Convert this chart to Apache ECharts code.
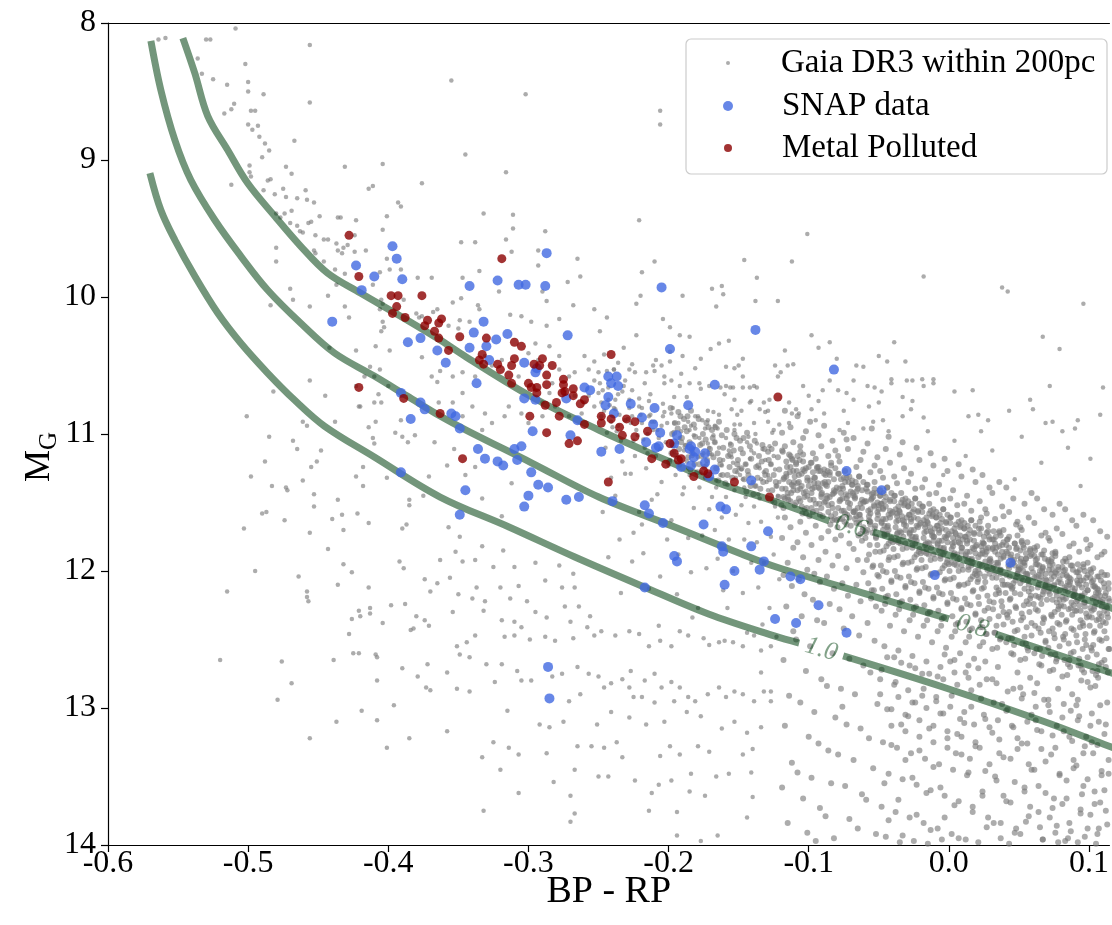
<!DOCTYPE html>
<html>
<head>
<meta charset="utf-8">
<script src="https://cdn.jsdelivr.net/npm/echarts@6/dist/echarts.min.js"></script>
<style>
  html, body { margin: 0; padding: 0; background: #fff; }
  #chart { width: 1112px; height: 925px; }
</style>
</head>
<body>
<div id="chart"></div>
<script>
// axes (the original figure is cropped on the right, just past 0.11)
const xMin = -0.6, xMax = 0.1146, xStep = 0.1;
const yMin = 8, yMax = 14, yStep = 1;
const seriesNames = ["Gaia DR3 within 200pc", "SNAP data", "Metal Polluted"];

// cooling tracks [BP-RP, M_G]; null marks the gap for the inline mass label
const trackMass = ["0.6", "0.8", "1.0"];
const track06 = [[-0.5466,8.11],[-0.5381,8.365],[-0.5288,8.679],[-0.5146,8.927],[-0.5004,9.168],[-0.4811,9.409],[-0.4626,9.628],[-0.4434,9.825],[-0.4199,9.971],[-0.3915,10.139],[-0.3630,10.314],[-0.3445,10.438],[-0.2975,10.730],[-0.2498,10.971],[-0.2021,11.190],[-0.1644,11.358],[-0.1231,11.496],[-0.0854,11.635],null,[-0.0541,11.715],[0.0427,12.022],[0.1139,12.263],[0.1274,12.31]];
const track08 = [[-0.5694,8.131],[-0.5623,8.489],[-0.5523,8.854],[-0.5409,9.146],[-0.5238,9.438],[-0.5053,9.701],[-0.4861,9.949],[-0.4626,10.190],[-0.4384,10.409],[-0.4100,10.577],[-0.3865,10.723],[-0.3630,10.869],[-0.3445,10.971],[-0.2975,11.212],[-0.2498,11.460],[-0.1957,11.679],[-0.1480,11.876],[-0.1231,11.971],[-0.0520,12.190],[0.0000,12.350],null,[0.0335,12.460],[0.1139,12.737],[0.1274,12.78]];
const track10 = [[-0.5701,9.095],[-0.5623,9.365],[-0.5523,9.584],[-0.5381,9.847],[-0.5217,10.117],[-0.5053,10.336],[-0.4861,10.555],[-0.4669,10.752],[-0.4456,10.942],[-0.4100,11.168],[-0.3630,11.460],[-0.3139,11.679],[-0.2669,11.898],[-0.2192,12.109],[-0.1715,12.314],[-0.1246,12.474],[-0.1068,12.526],null,[-0.0754,12.620],[-0.0043,12.847],[0.0669,13.095],[0.1139,13.277],[0.1274,13.33]];

// SNAP sample [BP-RP, M_G]
const snapData = [[-0.397,9.63],[-0.423,9.77],[-0.394,9.72],[-0.410,9.85],[-0.390,9.87],[-0.419,9.95],[-0.287,9.68],[-0.342,9.92],[-0.322,9.88],[-0.307,9.91],[-0.302,9.91],[-0.288,9.92],[-0.205,9.93],[-0.440,10.18],[-0.332,10.18],[-0.386,10.33],[-0.377,10.30],[-0.365,10.39],[-0.359,10.48],[-0.339,10.26],[-0.342,10.37],[-0.330,10.36],[-0.323,10.31],[-0.315,10.27],[-0.272,10.28],[-0.199,10.38],[-0.138,10.24],[-0.082,10.53],[-0.328,10.46],[-0.303,10.48],[-0.295,10.55],[-0.337,10.63],[-0.303,10.74],[-0.295,10.75],[-0.273,10.74],[-0.260,10.66],[-0.256,10.68],[-0.243,10.58],[-0.237,10.58],[-0.241,10.63],[-0.236,10.65],[-0.243,10.73],[-0.245,10.79],[-0.227,10.78],[-0.210,10.81],[-0.186,10.79],[-0.167,10.64],[-0.265,10.90],[-0.297,10.98],[-0.270,11.01],[-0.239,10.85],[-0.219,10.88],[-0.211,10.93],[-0.206,10.99],[-0.216,11.06],[-0.209,11.10],[-0.194,11.01],[-0.184,11.09],[-0.181,11.13],[-0.174,11.14],[-0.191,11.24],[-0.184,11.23],[-0.174,11.21],[-0.167,11.26],[-0.171,11.31],[-0.248,11.13],[-0.235,11.11],[-0.391,10.70],[-0.377,10.77],[-0.374,10.82],[-0.384,10.89],[-0.355,10.85],[-0.352,10.87],[-0.349,10.96],[-0.336,11.11],[-0.331,11.18],[-0.322,11.20],[-0.318,11.23],[-0.310,11.11],[-0.305,11.09],[-0.308,11.19],[-0.298,11.28],[-0.293,11.37],[-0.286,11.39],[-0.300,11.45],[-0.303,11.53],[-0.273,11.48],[-0.264,11.46],[-0.240,11.49],[-0.217,11.52],[-0.214,11.58],[-0.204,11.65],[-0.175,11.66],[-0.163,11.53],[-0.159,11.55],[-0.141,11.34],[-0.162,11.82],[-0.161,11.86],[-0.141,11.82],[-0.132,11.93],[-0.135,11.99],[-0.153,12.00],[-0.160,12.10],[-0.194,11.93],[-0.196,11.89],[-0.217,12.12],[-0.129,11.71],[-0.124,12.35],[-0.345,11.41],[-0.349,11.59],[-0.286,12.70],[-0.285,12.93],[-0.391,11.28],[-0.073,11.27],[-0.048,11.41],[0.044,11.94],[-0.010,12.03],[-0.113,12.04],[-0.106,12.06],[-0.093,12.25],[-0.109,12.38],[-0.073,12.45],[-0.207,11.09],[-0.196,11.07],[-0.185,11.11],[-0.182,11.17],[-0.294,10.52]];

// metal polluted subset
const pollutedData = [[-0.428,9.55],[-0.421,9.85],[-0.319,9.72],[-0.398,9.99],[-0.393,9.99],[-0.376,9.99],[-0.394,10.07],[-0.397,10.12],[-0.388,10.15],[-0.372,10.17],[-0.362,10.16],[-0.364,10.19],[-0.374,10.21],[-0.367,10.25],[-0.364,10.30],[-0.349,10.29],[-0.330,10.30],[-0.357,10.39],[-0.310,10.33],[-0.305,10.36],[-0.333,10.42],[-0.335,10.46],[-0.332,10.49],[-0.322,10.49],[-0.320,10.53],[-0.312,10.50],[-0.310,10.45],[-0.296,10.49],[-0.290,10.45],[-0.292,10.50],[-0.283,10.50],[-0.314,10.57],[-0.312,10.63],[-0.287,10.57],[-0.300,10.63],[-0.298,10.66],[-0.294,10.66],[-0.294,10.70],[-0.287,10.64],[-0.275,10.60],[-0.275,10.64],[-0.276,10.70],[-0.274,10.69],[-0.268,10.67],[-0.268,10.72],[-0.260,10.75],[-0.263,10.78],[-0.280,10.77],[-0.288,10.79],[-0.278,10.87],[-0.299,10.87],[-0.287,10.99],[-0.241,10.42],[-0.248,10.87],[-0.248,10.92],[-0.260,10.93],[-0.241,10.89],[-0.235,10.95],[-0.230,10.89],[-0.224,10.91],[-0.233,11.01],[-0.224,11.02],[-0.215,10.98],[-0.271,11.07],[-0.265,11.05],[-0.199,11.07],[-0.196,11.14],[-0.212,11.18],[-0.202,11.22],[-0.193,11.19],[-0.191,11.18],[-0.182,11.31],[-0.175,11.27],[-0.172,11.29],[-0.243,11.35],[-0.421,10.66],[-0.389,10.74],[-0.363,10.85],[-0.347,11.18],[-0.153,11.35],[-0.128,11.46],[-0.122,10.73]];

// Gaia 200pc background, flat x,y lists by area of the diagram
const gaiaUpperLeft = [-0.564,8.12,-0.559,8.11,-0.509,8.04,-0.530,8.12,-0.527,8.12,-0.456,8.16,-0.536,8.26,-0.502,8.30,-0.533,8.37,-0.525,8.41,-0.515,8.45,-0.500,8.43,-0.500,8.50,-0.489,8.52,-0.456,8.58,-0.510,8.59,-0.512,8.63,-0.517,8.66,-0.498,8.64,-0.495,8.64,-0.500,8.74,-0.493,8.75,-0.497,8.78,-0.492,8.83,-0.488,8.88,-0.485,8.93,-0.467,8.86,-0.490,8.98,-0.499,9.04,-0.499,9.09,-0.498,9.12,-0.473,9.05,-0.469,9.10,-0.484,9.14,-0.486,9.15,-0.431,9.05,-0.404,9.03,-0.512,9.18,-0.489,9.22,-0.481,9.25,-0.475,9.21,-0.473,9.27,-0.465,9.28,-0.459,9.22,-0.458,9.29,-0.453,9.31,-0.469,9.37,-0.480,9.39,-0.477,9.42,-0.474,9.39,-0.470,9.46,-0.465,9.48,-0.463,9.52,-0.461,9.53,-0.457,9.46,-0.455,9.45,-0.449,9.41,-0.436,9.42,-0.434,9.42,-0.423,9.44,-0.414,9.21,-0.411,9.19,-0.393,9.31,-0.391,9.34,-0.376,9.17,-0.401,9.41,-0.404,9.51,-0.452,9.55,-0.446,9.58,-0.443,9.58,-0.437,9.61,-0.429,9.62,-0.424,9.55,-0.416,9.66,-0.432,9.64,-0.436,9.66,-0.433,9.68,-0.424,9.67,-0.453,9.66,-0.452,9.68,-0.480,9.64,-0.480,9.74,-0.446,9.74,-0.438,9.80,-0.437,9.91,-0.431,9.83,-0.401,9.72,-0.399,9.80,-0.391,9.80,-0.379,9.86,-0.369,9.86,-0.406,9.82,-0.411,9.91,-0.405,10.02,-0.404,10.05,-0.406,10.09,-0.389,10.02,-0.376,10.14,-0.378,10.15,-0.380,10.12,-0.368,10.11,-0.365,10.09,-0.443,9.99,-0.431,10.07,-0.428,10.15,-0.456,10.07,-0.470,9.94,-0.468,10.02,-0.484,10.06,-0.404,10.18,-0.405,10.25,-0.403,10.22,-0.409,10.36,-0.399,10.39,-0.423,10.39,-0.442,10.37,-0.456,10.61,-0.482,10.69,-0.445,10.72,-0.423,10.65,-0.413,10.51,-0.406,10.53,-0.410,10.58,-0.417,10.58,-0.400,10.65,-0.407,10.71,-0.405,10.77,-0.410,10.77,-0.420,10.80,-0.421,10.80,-0.409,10.91,-0.414,10.95,-0.438,10.91,-0.461,10.91,-0.458,10.94,-0.501,10.87,-0.395,10.99,-0.391,10.90,-0.376,10.44,-0.369,10.58,-0.365,10.62,-0.363,10.54,-0.364,10.77];
const gaiaLowerLeft = [-0.485,11.02,-0.468,11.05,-0.465,11.11,-0.448,11.12,-0.488,11.20,-0.451,11.20,-0.455,11.24,-0.498,11.31,-0.483,11.38,-0.473,11.39,-0.472,11.41,-0.461,11.34,-0.453,11.44,-0.453,11.53,-0.436,11.48,-0.423,11.31,-0.418,11.24,-0.418,11.38,-0.411,11.03,-0.410,11.07,-0.401,11.32,-0.390,11.02,-0.386,11.06,-0.381,11.01,-0.367,11.06,-0.371,11.31,-0.375,11.45,-0.385,11.48,-0.385,11.52,-0.490,11.58,-0.487,11.57,-0.474,11.63,-0.503,11.69,-0.456,11.72,-0.440,11.62,-0.433,11.59,-0.432,11.70,-0.422,11.58,-0.414,11.65,-0.387,11.66,-0.390,11.69,-0.443,11.84,-0.432,11.95,-0.426,12.01,-0.392,11.93,-0.389,11.98,-0.374,12.06,-0.370,12.15,-0.365,12.09,-0.363,11.92,-0.495,12.00,-0.464,12.04,-0.515,12.15,-0.458,12.15,-0.458,12.19,-0.457,12.22,-0.436,12.10,-0.414,12.12,-0.421,12.29,-0.420,12.33,-0.426,12.35,-0.413,12.27,-0.413,12.31,-0.398,12.25,-0.388,12.24,-0.404,12.38,-0.428,12.46,-0.380,12.33,-0.374,12.36,-0.371,12.40,-0.384,12.43,-0.382,12.42,-0.425,12.60,-0.421,12.60,-0.409,12.61,-0.408,12.63,-0.520,12.65,-0.476,12.66,-0.439,12.65,-0.390,12.71,-0.372,12.68,-0.379,12.77,-0.469,12.82,-0.408,12.80,-0.373,12.85,-0.370,12.87,-0.479,12.94,-0.396,12.98,-0.419,13.02,-0.437,13.10,-0.408,13.09,-0.456,13.22,-0.385,13.22,-0.401,13.29];
const gaiaUpperMid = [-0.355,8.42,-0.302,8.52,-0.345,8.96,-0.316,9.09,-0.332,9.39,-0.311,9.40,-0.311,9.50,-0.316,9.58,-0.348,9.60,-0.338,9.60,-0.312,9.67,-0.288,9.52,-0.293,9.66,-0.293,9.77,-0.335,9.81,-0.347,9.86,-0.265,9.72,-0.263,9.85,-0.272,9.89,-0.221,9.44,-0.210,9.74,-0.219,9.82,-0.206,8.64,-0.206,8.74,-0.146,9.73,-0.137,9.86,-0.169,9.94,-0.162,9.92,-0.161,9.98,-0.166,10.07,-0.138,10.03,-0.190,9.99,-0.220,9.99,-0.223,10.05,-0.204,10.16,-0.253,10.09,-0.244,10.15,-0.268,10.06,-0.278,10.16,-0.287,10.03,-0.321,9.96,-0.290,9.96,-0.305,10.14,-0.313,10.13,-0.298,10.18,-0.287,10.21,-0.348,10.01,-0.354,10.04,-0.336,10.06,-0.342,10.18,-0.349,10.17,-0.335,10.09,-0.357,10.21,-0.350,10.23,-0.199,10.22,-0.192,10.28,-0.185,10.29,-0.164,10.34,-0.157,10.32,-0.124,10.50,-0.147,10.45,-0.150,10.50,-0.153,10.52,-0.177,10.45,-0.190,10.43,-0.199,10.47,-0.205,10.50,-0.210,10.54,-0.216,10.55,-0.203,10.58,-0.198,10.61,-0.192,10.65,-0.185,10.63,-0.178,10.63,-0.171,10.65,-0.159,10.65,-0.154,10.66,-0.147,10.66,-0.142,10.66,-0.139,10.65,-0.160,10.71,-0.153,10.75,-0.141,10.76,-0.132,10.77,-0.128,10.75,-0.135,10.82,-0.148,10.83,-0.155,10.82,-0.164,10.86,-0.172,10.90,-0.179,10.87,-0.186,10.91,-0.196,10.92,-0.205,10.94,-0.210,10.91,-0.167,10.94,-0.153,10.93,-0.139,10.92,-0.129,10.91,-0.125,10.97,-0.181,10.96,-0.226,10.49,-0.224,10.55,-0.231,10.61,-0.236,10.48,-0.239,10.53,-0.250,10.55,-0.253,10.61,-0.257,10.53,-0.260,10.43,-0.253,10.47,-0.267,10.55,-0.271,10.58,-0.278,10.53,-0.283,10.63,-0.274,10.68,-0.267,10.72,-0.260,10.77,-0.253,10.80,-0.248,10.77,-0.238,10.82,-0.226,10.87,-0.219,10.92,-0.214,10.87,-0.221,10.80,-0.228,10.75,-0.233,10.69,-0.243,10.66,-0.250,10.70,-0.257,10.72,-0.262,10.85,-0.271,10.87,-0.281,10.80,-0.290,10.87,-0.300,10.92,-0.305,10.85,-0.314,10.80,-0.317,10.87,-0.326,10.92,-0.333,10.97,-0.331,10.85,-0.340,10.80,-0.347,10.87,-0.354,10.77,-0.347,10.70,-0.338,10.58,-0.347,10.55,-0.354,10.58,-0.326,10.50,-0.319,10.46,-0.331,10.43,-0.300,10.41,-0.295,10.34,-0.285,10.36,-0.278,10.43,-0.293,10.46,-0.307,10.58,-0.295,10.68,-0.285,10.70,-0.290,10.77];
const gaiaUpperRight = [-0.101,9.54,-0.112,9.74,-0.018,9.85,0.038,9.93,0.042,9.96,0.096,10.05,-0.122,10.03,0.067,10.29,0.079,10.38,-0.098,10.28,-0.085,10.33,-0.039,10.33,-0.093,10.37,-0.117,10.39,-0.050,10.43,-0.044,10.47,-0.031,10.47,-0.080,10.45,-0.066,10.50,-0.061,10.51,-0.111,10.49,-0.115,10.50,-0.120,10.55,-0.085,10.61,-0.068,10.61,-0.041,10.60,-0.041,10.63,-0.030,10.61,-0.026,10.61,-0.019,10.60,-0.011,10.60,-0.011,10.63,-0.018,10.65,0.004,10.69,0.017,10.68,0.072,10.65,0.110,10.66,-0.058,10.65,-0.053,10.66,-0.048,10.69,-0.104,10.65,-0.100,10.72,-0.090,10.68,-0.079,10.68,-0.073,10.70,-0.033,10.73,-0.026,10.76,-0.093,10.76,-0.114,10.77,-0.109,10.82,-0.107,10.85,-0.112,10.85,-0.098,10.82,-0.089,10.85,-0.075,10.83,-0.068,10.75,-0.057,10.80,-0.050,10.77,-0.054,10.91,-0.047,10.90,-0.061,10.96,-0.033,10.87,-0.027,10.82,-0.018,10.88,0.014,10.87,0.021,10.86,0.028,10.90,0.043,10.83,0.058,10.75,0.060,10.82,0.069,10.92,0.074,10.91,0.092,10.90,0.108,10.86,0.081,10.98,0.090,10.96,0.023,10.98,-0.072,10.92,-0.078,10.97,-0.114,10.92,-0.121,10.93,-0.095,10.90,-0.043,10.98,-0.015,10.98,0.004,11.05,0.031,11.12,0.052,11.02,0.085,11.10,0.101,11.18,0.066,11.21,0.012,11.16,-0.004,11.30,0.047,11.33,0.094,11.38];
const gaiaLowerMid = [-0.353,11.11,-0.358,11.23,-0.338,11.24,-0.345,11.30,-0.312,11.36,-0.333,11.47,-0.319,11.60,-0.357,11.68,-0.349,11.75,-0.333,11.82,-0.318,11.85,-0.352,11.86,-0.338,11.92,-0.347,11.93,-0.325,11.97,-0.310,11.97,-0.295,11.94,-0.356,12.05,-0.337,12.12,-0.320,12.12,-0.307,12.11,-0.288,12.07,-0.278,11.96,-0.268,12.02,-0.276,12.12,-0.267,12.12,-0.350,12.17,-0.340,12.20,-0.331,12.22,-0.313,12.20,-0.301,12.22,-0.295,12.30,-0.287,12.34,-0.274,12.26,-0.264,12.26,-0.256,12.33,-0.258,12.41,-0.270,12.37,-0.354,12.30,-0.332,12.29,-0.319,12.36,-0.310,12.37,-0.305,12.41,-0.338,12.47,-0.317,12.48,-0.310,12.47,-0.299,12.50,-0.288,12.48,-0.281,12.51,-0.268,12.49,-0.253,12.47,-0.248,12.44,-0.238,12.47,-0.228,12.44,-0.221,12.46,-0.214,12.55,-0.206,12.51,-0.198,12.55,-0.192,12.44,-0.186,12.47,-0.175,12.49,-0.171,12.54,-0.160,12.51,-0.154,12.52,-0.147,12.55,-0.139,12.47,-0.134,12.58,-0.127,12.55,-0.351,12.55,-0.344,12.52,-0.349,12.61,-0.342,12.63,-0.330,12.68,-0.319,12.68,-0.308,12.73,-0.305,12.80,-0.298,12.80,-0.283,12.77,-0.276,12.75,-0.265,12.70,-0.257,12.75,-0.250,12.77,-0.246,12.85,-0.241,12.82,-0.233,12.79,-0.227,12.73,-0.228,12.85,-0.225,12.92,-0.219,12.92,-0.217,12.80,-0.210,12.75,-0.205,12.85,-0.198,12.81,-0.192,12.85,-0.196,12.95,-0.210,12.96,-0.186,12.92,-0.181,12.95,-0.172,12.90,-0.164,12.85,-0.159,12.92,-0.153,12.88,-0.147,12.90,-0.139,12.95,-0.132,12.88,-0.127,12.95,-0.358,12.74,-0.351,12.86,-0.342,12.88,-0.324,12.81,-0.315,13.02,-0.271,12.95,-0.263,12.90,-0.292,13.12,-0.285,13.14,-0.275,13.10,-0.251,13.12,-0.241,13.03,-0.228,13.07,-0.216,13.12,-0.203,13.10,-0.187,13.03,-0.177,13.06,-0.162,13.15,-0.153,13.10,-0.144,13.18,-0.134,13.14,-0.358,13.17,-0.325,13.25,-0.314,13.29,-0.307,13.34,-0.333,13.36,-0.287,13.33,-0.265,13.28,-0.255,13.28,-0.246,13.29,-0.237,13.25,-0.233,13.36,-0.206,13.35,-0.199,13.28,-0.192,13.34,-0.179,13.28,-0.171,13.32,-0.147,13.34,-0.140,13.30,-0.320,13.45,-0.282,13.54,-0.267,13.45,-0.250,13.50,-0.243,13.50,-0.224,13.53,-0.207,13.56,-0.198,13.53,-0.184,13.48,-0.166,13.50,-0.157,13.48,-0.141,13.47,-0.307,13.62,-0.270,13.64,-0.212,13.62,-0.185,13.61,-0.174,13.64,-0.140,13.65,-0.332,13.75,-0.267,13.77,-0.270,13.83,-0.214,13.75,-0.194,13.76,-0.144,13.80,-0.194,13.93,-0.177,13.97,-0.165,13.93];
const gaiaBandLeft = [
-0.249,10.63,-0.243,10.75,-0.246,10.83,-0.241,10.91,-0.247,10.68,-0.244,10.99,-0.242,10.79,-0.248,10.87,-0.245,11.10,-0.241,11.32,-0.247,11.57,-0.243,11.90,-0.246,10.42,-0.249,10.25,-0.240,10.95,-0.244,10.54,
-0.238,10.75,-0.235,10.86,-0.232,10.65,-0.237,10.98,-0.231,10.90,-0.239,10.81,-0.234,11.05,-0.236,10.71,-0.233,11.20,-0.238,11.45,-0.231,11.29,-0.235,11.77,-0.239,10.53,-0.232,10.37,-0.236,10.94,-0.234,12.16,
-0.227,10.92,-0.221,10.74,-0.225,11.05,-0.228,10.81,-0.223,10.97,-0.226,10.68,-0.229,10.89,-0.222,11.01,-0.224,11.16,-0.227,11.29,-0.221,11.57,-0.225,11.72,-0.228,10.53,-0.223,10.28,-0.220,10.86,-0.226,11.93,
-0.219,10.81,-0.215,11.00,-0.212,10.91,-0.217,11.10,-0.214,10.76,-0.211,10.97,-0.218,11.04,-0.213,10.86,-0.216,11.25,-0.212,11.48,-0.219,11.66,-0.214,12.13,-0.217,10.63,-0.211,10.50,-0.215,11.14,-0.218,11.87,-0.213,10.71,
-0.208,10.97,-0.203,10.84,-0.206,11.11,-0.201,10.92,-0.209,11.16,-0.204,10.78,-0.207,11.03,-0.202,11.06,-0.205,11.35,-0.208,11.44,-0.201,11.77,-0.206,12.04,-0.203,10.63,-0.209,10.46,-0.204,10.87,-0.200,11.23,-0.207,12.40,
-0.198,10.85,-0.194,11.06,-0.191,10.98,-0.196,11.13,-0.193,10.92,-0.199,11.19,-0.192,11.03,-0.197,10.81,-0.195,11.30,-0.190,11.44,-0.198,11.63,-0.193,11.88,-0.196,10.73,-0.191,10.56,-0.197,11.09,-0.194,12.17,-0.192,11.23,-0.199,10.40,
-0.189,11.12,-0.184,10.94,-0.187,11.20,-0.182,11.01,-0.186,11.25,-0.181,10.87,-0.188,11.08,-0.183,11.16,-0.185,10.97,-0.189,11.39,-0.182,11.54,-0.186,11.76,-0.184,12.01,-0.187,10.73,-0.181,10.52,-0.185,11.30,-0.183,12.34,
-0.178,11.03,-0.173,11.22,-0.176,10.90,-0.171,11.10,-0.179,11.17,-0.174,10.96,-0.177,11.28,-0.172,11.07,-0.175,11.14,-0.178,11.39,-0.171,11.55,-0.176,11.74,-0.173,11.98,-0.179,12.27,-0.172,10.83,-0.177,10.67,-0.174,11.32,-0.170,10.38,
-0.169,11.15,-0.165,10.96,-0.162,11.23,-0.167,11.06,-0.163,11.30,-0.168,11.01,-0.161,11.19,-0.166,11.34,-0.164,11.10,-0.169,11.46,-0.162,11.61,-0.167,11.70,-0.165,11.91,-0.161,12.14,-0.168,10.84,-0.163,10.66,-0.166,11.39,-0.164,12.52,
-0.159,11.03,-0.154,11.21,-0.157,11.12,-0.152,11.32,-0.156,11.07,-0.151,11.28,-0.158,11.37,-0.153,10.97,-0.155,11.17,-0.159,11.46,-0.152,11.59,-0.157,11.77,-0.154,12.00,-0.158,12.27,-0.151,10.86,-0.156,10.66,-0.153,11.41,-0.159,10.51,-0.150,11.25,
-0.148,11.26,-0.144,11.06,-0.147,11.33,-0.142,11.18,-0.146,11.39,-0.141,11.12,-0.149,11.30,-0.143,11.02,-0.145,11.22,-0.140,11.35,-0.148,11.52,-0.143,11.65,-0.146,11.77,-0.141,11.94,-0.147,12.16,-0.144,12.45,-0.149,10.93,-0.142,10.77,-0.145,11.46,-0.147,10.58,
-0.139,11.14,-0.134,11.33,-0.137,11.07,-0.132,11.28,-0.136,11.44,-0.131,11.19,-0.138,11.38,-0.133,11.11,-0.135,11.25,-0.130,11.35,-0.139,11.53,-0.134,11.64,-0.137,11.79,-0.132,11.94,-0.136,12.12,-0.133,12.39,-0.138,11.00,-0.131,10.84,-0.135,11.47,-0.137,10.66,-0.134,12.74,
-0.129,11.30,-0.125,11.16,-0.122,11.45,-0.127,11.22,-0.123,11.38,-0.128,11.09,-0.121,11.35,-0.126,11.49,-0.124,11.26,-0.129,11.41,-0.122,11.61,-0.127,11.75,-0.125,11.88,-0.121,12.06,-0.128,12.27,-0.123,12.48,-0.126,10.99,-0.129,10.83,-0.124,11.53,-0.122,10.58,-0.127,12.88];
const gaiaBandRight = [
-0.119,11.12,-0.113,11.24,-0.116,11.29,-0.111,11.41,-0.117,11.47,-0.114,11.15,-0.118,11.33,-0.112,11.37,-0.115,11.46,-0.110,11.52,-0.116,11.20,-0.111,11.27,-0.119,11.40,-0.113,11.49,-0.112,11.18,-0.117,11.09,-0.114,11.35,-0.118,11.54,-0.115,11.43,-0.110,11.31,-0.117,11.61,-0.113,11.68,-0.119,11.76,-0.111,11.83,-0.115,11.94,-0.118,12.03,-0.112,12.11,-0.116,12.26,-0.111,12.44,-0.118,12.65,-0.114,12.91,-0.117,13.13,-0.112,13.40,-0.119,13.58,-0.115,13.84,-0.113,10.95,-0.117,10.83,-0.111,11.06,-0.119,10.99,
-0.108,11.16,-0.104,11.26,-0.101,11.32,-0.106,11.40,-0.103,11.55,-0.109,11.22,-0.105,11.29,-0.100,11.38,-0.107,11.47,-0.102,11.58,-0.104,11.20,-0.108,11.36,-0.101,11.45,-0.106,11.13,-0.109,11.50,-0.103,11.27,-0.105,11.53,-0.107,11.35,-0.102,11.42,-0.100,11.24,-0.106,11.64,-0.102,11.72,-0.108,11.79,-0.104,11.90,-0.101,11.99,-0.107,12.06,-0.103,12.17,-0.105,12.33,-0.109,12.50,-0.102,12.73,-0.106,12.96,-0.100,13.21,-0.108,13.47,-0.104,13.66,-0.101,13.91,-0.106,11.09,-0.102,10.98,-0.108,10.87,-0.104,11.03,
-0.098,11.21,-0.093,11.27,-0.096,11.36,-0.091,11.44,-0.097,11.57,-0.094,11.24,-0.099,11.34,-0.092,11.40,-0.095,11.51,-0.090,11.60,-0.097,11.28,-0.093,11.39,-0.099,11.48,-0.095,11.18,-0.091,11.54,-0.096,11.32,-0.092,11.59,-0.098,11.43,-0.094,11.25,-0.090,11.36,-0.095,11.67,-0.091,11.76,-0.098,11.81,-0.093,11.92,-0.096,12.02,-0.092,12.08,-0.097,12.21,-0.094,12.36,-0.099,12.55,-0.091,12.79,-0.096,13.03,-0.093,13.26,-0.098,13.51,-0.092,13.73,-0.095,13.97,-0.097,11.14,-0.093,11.01,-0.099,10.91,-0.091,11.09,
-0.089,11.26,-0.085,11.30,-0.082,11.41,-0.087,11.47,-0.084,11.60,-0.081,11.25,-0.088,11.37,-0.083,11.44,-0.086,11.52,-0.080,11.63,-0.088,11.30,-0.082,11.43,-0.089,11.50,-0.084,11.21,-0.081,11.58,-0.086,11.35,-0.083,11.63,-0.087,11.45,-0.085,11.28,-0.080,11.39,-0.086,11.71,-0.081,11.77,-0.088,11.86,-0.083,11.96,-0.087,12.04,-0.082,12.13,-0.085,12.24,-0.089,12.38,-0.083,12.60,-0.087,12.84,-0.081,13.07,-0.086,13.31,-0.084,13.55,-0.088,13.79,-0.082,13.95,-0.086,11.16,-0.083,11.05,-0.089,10.94,-0.081,11.12,
-0.079,11.29,-0.074,11.35,-0.077,11.43,-0.072,11.50,-0.076,11.62,-0.071,11.31,-0.078,11.40,-0.073,11.47,-0.075,11.56,-0.070,11.67,-0.077,11.33,-0.072,11.45,-0.079,11.54,-0.074,11.27,-0.071,11.61,-0.076,11.38,-0.073,11.66,-0.078,11.49,-0.075,11.32,-0.070,11.42,-0.074,11.58,-0.077,11.74,-0.071,11.80,-0.079,11.89,-0.073,11.98,-0.076,12.09,-0.072,12.18,-0.078,12.28,-0.075,12.42,-0.071,12.64,-0.077,12.86,-0.073,13.12,-0.079,13.34,-0.074,13.57,-0.071,13.81,-0.076,12.99,-0.078,11.20,-0.072,11.11,-0.075,10.99,-0.079,11.16,-0.073,11.04,
-0.069,11.34,-0.065,11.38,-0.062,11.48,-0.067,11.56,-0.064,11.65,-0.061,11.35,-0.068,11.45,-0.063,11.51,-0.066,11.60,-0.060,11.71,-0.069,11.37,-0.062,11.54,-0.067,11.62,-0.064,11.31,-0.061,11.68,-0.066,11.42,-0.063,11.73,-0.068,11.57,-0.065,11.40,-0.060,11.49,-0.064,11.59,-0.067,11.47,-0.062,11.78,-0.068,11.84,-0.065,11.92,-0.061,12.01,-0.066,12.10,-0.063,12.22,-0.069,12.33,-0.064,12.47,-0.061,12.69,-0.067,12.90,-0.063,13.15,-0.068,13.38,-0.062,13.63,-0.065,13.88,-0.066,11.24,-0.061,11.13,-0.068,11.03,-0.063,11.19,
-0.058,11.37,-0.054,11.43,-0.051,11.50,-0.056,11.58,-0.053,11.69,-0.059,11.40,-0.055,11.47,-0.050,11.55,-0.057,11.63,-0.052,11.75,-0.058,11.42,-0.051,11.57,-0.056,11.66,-0.053,11.35,-0.059,11.72,-0.054,11.46,-0.052,11.76,-0.057,11.60,-0.055,11.44,-0.050,11.52,-0.056,11.64,-0.053,11.53,-0.059,11.49,-0.051,11.81,-0.057,11.88,-0.054,11.96,-0.050,12.04,-0.055,12.14,-0.052,12.26,-0.058,12.38,-0.053,12.51,-0.056,12.74,-0.051,12.97,-0.057,13.22,-0.054,13.44,-0.059,13.67,-0.052,13.92,-0.056,11.28,-0.051,11.17,-0.058,11.07,-0.053,11.23,-0.055,10.96,
-0.049,11.41,-0.045,11.46,-0.042,11.56,-0.047,11.62,-0.044,11.73,-0.041,11.43,-0.048,11.51,-0.043,11.59,-0.046,11.67,-0.040,11.79,-0.049,11.45,-0.042,11.61,-0.047,11.70,-0.044,11.39,-0.041,11.76,-0.046,11.49,-0.043,11.80,-0.048,11.64,-0.045,11.53,-0.040,11.57,-0.044,11.68,-0.047,11.55,-0.042,11.48,-0.046,11.74,-0.049,11.86,-0.043,11.92,-0.047,12.00,-0.041,12.08,-0.045,12.19,-0.048,12.29,-0.042,12.40,-0.046,12.55,-0.044,12.63,-0.049,12.79,-0.041,13.01,-0.047,13.25,-0.043,13.48,-0.048,13.72,-0.045,13.94,-0.041,13.13,-0.047,11.32,-0.042,11.21,-0.045,11.11,-0.049,11.27,-0.043,11.02,
-0.039,11.45,-0.034,11.50,-0.037,11.58,-0.032,11.66,-0.036,11.77,-0.031,11.47,-0.038,11.55,-0.033,11.63,-0.035,11.71,-0.030,11.83,-0.039,11.49,-0.032,11.64,-0.037,11.73,-0.034,11.43,-0.031,11.80,-0.036,11.53,-0.033,11.84,-0.038,11.68,-0.035,11.57,-0.030,11.61,-0.034,11.72,-0.037,11.60,-0.032,11.52,-0.036,11.79,-0.039,11.90,-0.033,11.95,-0.037,12.04,-0.031,12.12,-0.035,12.23,-0.038,12.32,-0.032,12.44,-0.036,12.58,-0.034,12.67,-0.039,12.83,-0.031,13.05,-0.037,13.29,-0.033,13.52,-0.038,13.76,-0.035,13.98,-0.031,13.17,-0.036,12.92,-0.037,11.36,-0.032,11.25,-0.035,11.15,-0.039,11.31,-0.033,11.06,
-0.029,11.49,-0.025,11.55,-0.022,11.62,-0.027,11.70,-0.024,11.80,-0.021,11.51,-0.028,11.59,-0.023,11.67,-0.026,11.75,-0.020,11.87,-0.029,11.53,-0.022,11.68,-0.027,11.77,-0.024,11.47,-0.021,11.84,-0.026,11.57,-0.023,11.88,-0.028,11.72,-0.025,11.61,-0.020,11.65,-0.024,11.76,-0.027,11.64,-0.022,11.56,-0.026,11.83,-0.029,11.94,-0.023,11.99,-0.027,12.08,-0.021,12.16,-0.025,12.27,-0.028,12.36,-0.022,12.48,-0.026,12.62,-0.024,12.71,-0.029,12.87,-0.021,13.09,-0.027,13.33,-0.023,13.56,-0.028,13.80,-0.025,13.97,-0.021,13.21,-0.026,12.96,-0.024,11.40,-0.027,11.29,-0.021,11.19,-0.029,11.35,-0.023,11.10,
-0.019,11.53,-0.014,11.58,-0.017,11.66,-0.012,11.74,-0.016,11.84,-0.011,11.55,-0.018,11.63,-0.013,11.71,-0.015,11.79,-0.010,11.91,-0.019,11.57,-0.012,11.72,-0.017,11.81,-0.014,11.51,-0.011,11.88,-0.016,11.61,-0.013,11.92,-0.018,11.76,-0.015,11.65,-0.010,11.69,-0.014,11.80,-0.017,11.68,-0.012,11.60,-0.016,11.87,-0.011,11.75,-0.019,11.98,-0.013,12.03,-0.017,12.12,-0.011,12.20,-0.015,12.31,-0.018,12.40,-0.012,12.52,-0.016,12.66,-0.014,12.75,-0.019,12.91,-0.011,13.13,-0.017,13.37,-0.013,13.60,-0.018,13.84,-0.015,13.99,-0.011,13.25,-0.016,13.00,-0.014,11.44,-0.017,11.33,-0.011,11.23,-0.019,11.39,-0.013,11.14,
-0.009,11.57,-0.005,11.62,-0.002,11.70,-0.007,11.78,-0.004,11.88,-0.001,11.59,-0.008,11.67,-0.003,11.75,-0.006,11.83,0.000,11.95,-0.009,11.61,-0.002,11.76,-0.007,11.85,-0.004,11.55,-0.001,11.92,-0.006,11.65,-0.003,11.96,-0.008,11.80,-0.005,11.69,0.000,11.73,-0.004,11.84,-0.007,11.72,-0.002,11.64,-0.006,11.91,-0.001,11.79,-0.009,12.02,-0.003,12.07,-0.007,12.16,-0.001,12.24,-0.005,12.35,-0.008,12.44,-0.002,12.56,-0.006,12.70,-0.004,12.79,-0.009,12.95,-0.001,13.17,-0.007,13.41,-0.003,13.64,-0.008,13.88,-0.005,13.96,-0.001,13.29,-0.006,13.04,-0.003,12.61,-0.004,11.48,-0.007,11.37,-0.001,11.27,-0.009,11.43,-0.003,11.18,
0.001,11.61,0.005,11.66,0.008,11.74,0.003,11.82,0.006,11.92,0.009,11.63,0.002,11.71,0.007,11.79,0.004,11.87,0.010,11.99,0.001,11.65,0.008,11.80,0.003,11.89,0.006,11.59,0.009,11.96,0.004,11.69,0.007,12.00,0.002,11.84,0.005,11.73,0.010,11.77,0.006,11.88,0.003,11.76,0.008,11.68,0.004,11.95,0.009,11.83,0.001,12.06,0.007,12.11,0.003,12.20,0.009,12.28,0.005,12.39,0.002,12.48,0.008,12.60,0.004,12.74,0.006,12.83,0.001,12.99,0.009,13.21,0.003,13.45,0.007,13.68,0.002,13.92,0.005,13.33,0.008,13.08,0.004,12.65,0.006,11.52,0.003,11.41,0.009,11.31,0.001,11.47,0.007,11.22,
0.011,11.65,0.015,11.70,0.018,11.78,0.013,11.86,0.016,11.96,0.019,11.67,0.012,11.75,0.017,11.83,0.014,11.91,0.020,12.03,0.011,11.69,0.018,11.84,0.013,11.93,0.016,11.63,0.019,12.00,0.014,11.73,0.017,12.04,0.012,11.88,0.015,11.77,0.020,11.81,0.016,11.92,0.013,11.80,0.018,11.72,0.014,11.99,0.019,11.87,0.011,12.10,0.017,12.15,0.013,12.24,0.019,12.32,0.015,12.43,0.012,12.52,0.018,12.64,0.014,12.78,0.016,12.87,0.011,13.03,0.019,13.25,0.013,13.49,0.017,13.72,0.012,13.96,0.015,13.37,0.018,13.12,0.014,12.69,0.016,11.56,0.013,11.45,0.019,11.35,0.011,11.51,0.017,11.26,
0.028,11.67,0.022,11.73,0.025,11.80,0.021,11.90,0.027,11.97,0.023,11.69,0.029,11.77,0.024,11.85,0.026,11.93,0.021,12.06,0.028,11.71,0.023,11.82,0.026,11.88,0.022,11.64,0.029,12.02,0.025,11.75,0.021,11.99,0.027,11.86,0.024,11.79,0.029,11.92,0.022,11.95,0.026,12.08,0.023,11.61,0.028,11.83,0.025,12.12,0.021,12.19,0.028,12.27,0.023,12.36,0.027,12.46,0.022,12.55,0.026,12.66,0.029,12.22,0.024,12.41,0.027,12.79,0.023,12.93,0.029,13.14,0.022,13.29,0.026,13.46,0.024,13.61,0.028,13.80,0.021,13.98,0.025,13.05,0.027,11.58,0.022,11.49,0.029,11.39,0.024,11.30,0.026,11.55,
0.032,11.71,0.037,11.74,0.034,11.83,0.039,11.89,0.031,11.98,0.036,11.72,0.033,11.80,0.038,11.86,0.035,11.95,0.040,12.10,0.032,11.77,0.037,11.91,0.034,11.94,0.039,11.70,0.031,12.05,0.036,11.82,0.033,12.01,0.038,12.07,0.035,11.88,0.030,11.93,0.037,11.99,0.034,12.12,0.039,11.79,0.031,11.84,0.036,12.16,0.032,12.23,0.039,12.30,0.034,12.40,0.037,12.49,0.031,12.57,0.035,12.70,0.038,12.26,0.033,12.45,0.034,12.82,0.038,12.97,0.031,13.18,0.036,13.33,0.033,13.50,0.039,13.64,0.032,13.84,0.037,13.95,0.035,13.09,0.033,11.62,0.038,11.53,0.031,11.43,0.036,11.35,0.039,11.60,
0.043,11.75,0.047,11.80,0.041,11.86,0.046,11.94,0.049,12.02,0.042,11.77,0.048,11.84,0.044,11.90,0.050,11.99,0.045,12.13,0.041,11.81,0.047,11.96,0.043,11.98,0.049,11.74,0.046,12.09,0.042,11.87,0.048,12.05,0.044,12.11,0.045,11.92,0.050,11.97,0.041,12.03,0.047,12.16,0.043,11.83,0.049,11.89,0.044,12.20,0.048,12.27,0.042,12.34,0.047,12.44,0.041,12.52,0.046,12.61,0.049,12.74,0.043,12.30,0.045,12.49,0.046,12.86,0.042,13.01,0.049,13.22,0.044,13.37,0.047,13.54,0.041,13.68,0.048,13.88,0.043,13.99,0.045,13.13,0.048,11.66,0.043,11.57,0.046,11.47,0.041,11.39,0.049,11.64,
0.052,11.79,0.058,11.84,0.055,11.91,0.051,11.98,0.057,12.06,0.053,11.81,0.059,11.88,0.054,11.94,0.056,12.03,0.051,12.17,0.058,11.85,0.053,12.00,0.056,12.02,0.052,11.78,0.059,12.13,0.055,11.91,0.051,12.09,0.057,12.15,0.054,11.96,0.060,12.01,0.053,12.07,0.058,12.20,0.055,11.87,0.051,11.93,0.057,12.24,0.052,12.31,0.059,12.38,0.054,12.48,0.056,12.56,0.051,12.65,0.058,12.78,0.053,12.34,0.055,12.53,0.053,12.90,0.059,13.05,0.052,13.26,0.057,13.41,0.054,13.58,0.058,13.72,0.051,13.92,0.056,13.10,0.055,13.83,0.052,11.70,0.057,11.61,0.054,11.51,0.059,11.43,0.051,11.68,
0.061,11.83,0.066,11.88,0.063,11.95,0.069,12.02,0.064,12.10,0.068,11.85,0.062,11.92,0.067,11.98,0.065,12.07,0.070,12.21,0.061,11.89,0.066,12.04,0.069,12.06,0.063,11.82,0.067,12.17,0.062,11.95,0.068,12.13,0.064,12.19,0.065,12.00,0.061,12.05,0.069,12.11,0.066,12.24,0.063,11.91,0.067,11.97,0.062,12.28,0.068,12.35,0.064,12.42,0.069,12.52,0.061,12.60,0.066,12.69,0.063,12.82,0.067,12.38,0.065,12.57,0.068,12.94,0.062,13.09,0.066,13.30,0.061,13.45,0.069,13.62,0.064,13.76,0.067,13.96,0.063,13.16,0.065,13.87,0.066,11.74,0.061,11.65,0.068,11.55,0.063,11.47,0.069,11.72,
0.074,11.87,0.071,11.92,0.078,11.99,0.073,12.06,0.079,12.14,0.076,11.89,0.072,11.96,0.077,12.02,0.075,12.11,0.080,12.25,0.073,11.93,0.078,12.08,0.071,12.10,0.076,11.86,0.079,12.21,0.074,11.99,0.072,12.17,0.077,12.23,0.075,12.04,0.080,12.09,0.071,12.15,0.078,12.28,0.074,11.95,0.076,12.01,0.073,12.32,0.079,12.39,0.075,12.46,0.071,12.56,0.077,12.64,0.072,12.73,0.078,12.86,0.074,12.42,0.076,12.61,0.071,12.98,0.077,13.13,0.073,13.34,0.079,13.49,0.075,13.66,0.072,13.80,0.078,13.98,0.074,13.20,0.076,13.91,0.072,11.78,0.077,11.69,0.074,11.59,0.079,11.51,0.071,11.76,
0.083,11.91,0.088,11.96,0.081,12.03,0.086,12.10,0.089,12.18,0.084,11.93,0.082,12.00,0.087,12.06,0.085,12.15,0.090,12.29,0.081,11.97,0.088,12.12,0.083,12.14,0.086,11.90,0.089,12.25,0.084,12.03,0.082,12.21,0.087,12.27,0.085,12.08,0.090,12.13,0.081,12.19,0.088,12.32,0.083,11.99,0.086,12.05,0.084,12.36,0.089,12.43,0.082,12.50,0.087,12.60,0.085,12.68,0.081,12.77,0.088,12.90,0.083,12.46,0.086,12.65,0.087,13.02,0.082,13.17,0.089,13.38,0.084,13.53,0.081,13.70,0.086,13.84,0.083,13.97,0.088,13.24,0.085,13.95,0.086,11.82,0.081,11.73,0.088,11.63,0.083,11.55,0.089,11.80,
0.092,11.95,0.097,12.00,0.094,12.07,0.099,12.14,0.091,12.22,0.096,11.97,0.093,12.04,0.098,12.10,0.095,12.19,0.100,12.33,0.092,12.01,0.097,12.16,0.094,12.18,0.099,11.94,0.091,12.29,0.096,12.07,0.093,12.25,0.098,12.31,0.095,12.12,0.090,12.17,0.097,12.23,0.094,12.36,0.099,12.03,0.092,12.09,0.096,12.40,0.091,12.47,0.098,12.54,0.093,12.64,0.095,12.72,0.099,12.81,0.092,12.94,0.097,12.50,0.094,12.69,0.093,13.06,0.098,13.21,0.091,13.42,0.096,13.57,0.094,13.74,0.099,13.88,0.092,13.98,0.097,13.28,0.095,13.63,0.093,11.86,0.098,11.77,0.091,11.67,0.096,11.59,0.099,11.84,
0.101,11.99,0.106,12.04,0.103,12.11,0.108,12.18,0.104,12.26,0.109,12.01,0.102,12.08,0.107,12.14,0.105,12.23,0.110,12.37,0.101,12.05,0.106,12.20,0.108,12.22,0.103,11.98,0.109,12.33,0.104,12.11,0.102,12.29,0.107,12.35,0.105,12.16,0.110,12.21,0.101,12.27,0.108,12.40,0.103,12.07,0.106,12.13,0.104,12.44,0.109,12.51,0.102,12.58,0.107,12.68,0.105,12.76,0.101,12.85,0.108,12.98,0.103,12.54,0.106,12.73,0.107,13.10,0.102,13.25,0.109,13.46,0.104,13.61,0.101,13.78,0.106,13.92,0.103,13.33,0.108,13.69,0.105,13.99,0.106,11.90,0.101,11.81,0.108,11.71,0.103,11.63,0.109,11.88,
0.111,12.03,0.114,12.09,0.112,12.16,0.115,12.24,0.113,12.31,0.111,12.12,0.114,12.20,0.112,12.38,0.115,12.06,0.113,12.27,0.111,12.44,0.114,12.57,0.112,12.70,0.115,12.83,0.113,12.96,0.111,13.19,0.114,13.48,0.112,13.75,0.115,11.93,0.113,11.75,0.111,11.86];
// densest part of the white dwarf sequence
const gaiaCore = [
-0.1985,10.81,-0.1915,10.87,-0.1955,10.92,-0.1935,10.96,-0.1975,11.00,-0.1905,11.03,-0.1965,11.08,-0.1925,11.11,-0.1945,11.16,-0.1995,11.20,-0.1930,10.84,-0.1960,10.99,-0.1910,11.06,-0.1980,11.14,
-0.1840,10.83,-0.1890,10.89,-0.1820,10.93,-0.1870,10.98,-0.1810,11.02,-0.1850,11.06,-0.1880,11.09,-0.1830,11.14,-0.1860,11.17,-0.1815,11.22,-0.1885,10.95,-0.1835,11.11,-0.1865,10.87,-0.1845,11.26,
-0.1785,10.89,-0.1715,10.95,-0.1755,11.00,-0.1735,11.04,-0.1775,11.08,-0.1705,11.11,-0.1765,11.16,-0.1725,11.19,-0.1745,11.24,-0.1795,11.28,-0.1730,10.92,-0.1760,11.07,-0.1710,11.14,-0.1780,11.22,
-0.1640,10.91,-0.1690,10.97,-0.1620,11.01,-0.1670,11.06,-0.1610,11.10,-0.1650,11.14,-0.1680,11.17,-0.1630,11.22,-0.1660,11.25,-0.1615,11.30,-0.1685,11.03,-0.1635,11.19,-0.1665,10.95,-0.1645,11.34,
-0.1585,10.97,-0.1515,11.03,-0.1555,11.08,-0.1535,11.12,-0.1575,11.16,-0.1505,11.19,-0.1565,11.24,-0.1525,11.27,-0.1545,11.32,-0.1595,11.36,-0.1530,11.00,-0.1560,11.15,-0.1510,11.22,-0.1580,11.30,
-0.1440,10.99,-0.1490,11.05,-0.1420,11.09,-0.1470,11.14,-0.1410,11.18,-0.1450,11.22,-0.1480,11.25,-0.1430,11.30,-0.1460,11.33,-0.1415,11.38,-0.1485,11.11,-0.1435,11.27,-0.1465,11.03,-0.1445,11.42,
-0.1385,11.05,-0.1315,11.11,-0.1355,11.16,-0.1335,11.20,-0.1375,11.24,-0.1305,11.27,-0.1365,11.32,-0.1325,11.35,-0.1345,11.40,-0.1395,11.44,-0.1330,11.08,-0.1360,11.23,-0.1310,11.30,-0.1380,11.38,
-0.1240,11.07,-0.1290,11.13,-0.1220,11.17,-0.1270,11.22,-0.1210,11.26,-0.1250,11.30,-0.1280,11.33,-0.1230,11.38,-0.1260,11.41,-0.1215,11.46,-0.1285,11.19,-0.1235,11.35,-0.1265,11.11,-0.1245,11.50,
-0.1185,11.13,-0.1115,11.19,-0.1155,11.24,-0.1135,11.28,-0.1175,11.32,-0.1105,11.35,-0.1165,11.40,-0.1125,11.43,-0.1145,11.48,-0.1195,11.52,-0.1130,11.16,-0.1160,11.31,-0.1110,11.38,-0.1180,11.46,
-0.1040,11.15,-0.1090,11.21,-0.1020,11.25,-0.1070,11.30,-0.1010,11.34,-0.1050,11.38,-0.1080,11.41,-0.1030,11.46,-0.1060,11.49,-0.1015,11.54,-0.1085,11.27,-0.1035,11.43,-0.1065,11.19,-0.1045,11.58,
-0.0985,11.21,-0.0915,11.27,-0.0955,11.32,-0.0935,11.36,-0.0975,11.40,-0.0905,11.43,-0.0965,11.48,-0.0925,11.51,-0.0945,11.56,-0.0995,11.60,-0.0930,11.24,-0.0960,11.39,-0.0910,11.46,-0.0980,11.54,
-0.0840,11.23,-0.0890,11.29,-0.0820,11.33,-0.0870,11.38,-0.0810,11.42,-0.0850,11.46,-0.0880,11.49,-0.0830,11.54,-0.0860,11.57,-0.0815,11.62,-0.0885,11.35,-0.0835,11.51,-0.0865,11.27,-0.0845,11.66,
-0.0785,11.29,-0.0715,11.35,-0.0755,11.40,-0.0735,11.44,-0.0775,11.48,-0.0705,11.51,-0.0765,11.56,-0.0725,11.59,-0.0745,11.64,-0.0795,11.68,-0.0730,11.32,-0.0760,11.47,-0.0710,11.54,-0.0780,11.62,
-0.0640,11.31,-0.0690,11.37,-0.0620,11.41,-0.0670,11.46,-0.0610,11.50,-0.0650,11.54,-0.0680,11.57,-0.0630,11.62,-0.0660,11.65,-0.0615,11.70,-0.0685,11.43,-0.0635,11.59,-0.0665,11.35,-0.0645,11.74,
-0.0585,11.37,-0.0515,11.43,-0.0555,11.48,-0.0535,11.52,-0.0575,11.56,-0.0505,11.59,-0.0565,11.64,-0.0525,11.67,-0.0545,11.72,-0.0595,11.76,-0.0530,11.40,-0.0560,11.55,-0.0510,11.62,-0.0580,11.70,
-0.0440,11.39,-0.0490,11.45,-0.0420,11.49,-0.0470,11.54,-0.0410,11.58,-0.0450,11.62,-0.0480,11.65,-0.0430,11.70,-0.0460,11.73,-0.0415,11.78,-0.0485,11.51,-0.0435,11.67,-0.0465,11.43,-0.0445,11.82,
-0.0385,11.45,-0.0315,11.51,-0.0355,11.56,-0.0335,11.60,-0.0375,11.64,-0.0305,11.67,-0.0365,11.72,-0.0325,11.75,-0.0345,11.80,-0.0395,11.84,-0.0330,11.48,-0.0360,11.63,-0.0310,11.70,-0.0380,11.78,
-0.0240,11.47,-0.0290,11.53,-0.0220,11.57,-0.0270,11.62,-0.0210,11.66,-0.0250,11.70,-0.0280,11.73,-0.0230,11.78,-0.0260,11.81,-0.0215,11.86,-0.0285,11.59,-0.0235,11.75,-0.0265,11.51,-0.0245,11.90,
-0.0185,11.53,-0.0115,11.59,-0.0155,11.64,-0.0135,11.68,-0.0175,11.72,-0.0105,11.75,-0.0165,11.80,-0.0125,11.83,-0.0145,11.88,-0.0195,11.92,-0.0130,11.56,-0.0160,11.71,-0.0110,11.78,-0.0180,11.86,
-0.0040,11.55,-0.0090,11.61,-0.0020,11.65,-0.0070,11.70,-0.0010,11.74,-0.0050,11.78,-0.0080,11.81,-0.0030,11.86,-0.0060,11.89,-0.0015,11.94,-0.0085,11.67,-0.0035,11.83,-0.0065,11.59,-0.0045,11.98,
0.0015,11.61,0.0085,11.67,0.0045,11.72,0.0065,11.76,0.0025,11.80,0.0095,11.83,0.0035,11.88,0.0075,11.91,0.0055,11.96,0.0005,12.00,0.0070,11.64,0.0040,11.79,0.0090,11.86,0.0020,11.94,
0.0160,11.63,0.0110,11.69,0.0180,11.73,0.0130,11.78,0.0190,11.82,0.0150,11.86,0.0120,11.89,0.0170,11.94,0.0140,11.97,0.0185,12.02,0.0115,11.75,0.0165,11.91,0.0135,11.67,0.0155,12.06,
0.0215,11.69,0.0285,11.75,0.0245,11.80,0.0265,11.84,0.0225,11.88,0.0295,11.91,0.0235,11.96,0.0275,11.99,0.0255,12.04,0.0205,12.08,0.0270,11.72,0.0240,11.87,0.0290,11.94,0.0220,12.02,
0.0360,11.71,0.0310,11.77,0.0380,11.81,0.0330,11.86,0.0390,11.90,0.0350,11.94,0.0320,11.97,0.0370,12.02,0.0340,12.05,0.0385,12.10,0.0315,11.83,0.0365,11.99,0.0335,11.75,0.0355,12.14,
0.0415,11.77,0.0485,11.83,0.0445,11.88,0.0465,11.92,0.0425,11.96,0.0495,11.99,0.0435,12.04,0.0475,12.07,0.0455,12.12,0.0405,12.16,0.0470,11.80,0.0440,11.95,0.0490,12.02,0.0420,12.10,
0.0560,11.79,0.0510,11.85,0.0580,11.89,0.0530,11.94,0.0590,11.98,0.0550,12.02,0.0520,12.05,0.0570,12.10,0.0540,12.13,0.0585,12.18,0.0515,11.91,0.0565,12.07,0.0535,11.83,0.0555,12.22,
0.0615,11.85,0.0685,11.91,0.0645,11.96,0.0665,12.00,0.0625,12.04,0.0695,12.07,0.0635,12.12,0.0675,12.15,0.0655,12.20,0.0605,12.24,0.0670,11.88,0.0640,12.03,0.0690,12.10,0.0620,12.18,
0.0760,11.87,0.0710,11.93,0.0780,11.97,0.0730,12.02,0.0790,12.06,0.0750,12.10,0.0720,12.13,0.0770,12.18,0.0740,12.21,0.0785,12.26,0.0715,11.99,0.0765,12.15,0.0735,11.91,0.0755,12.30,
0.0815,11.93,0.0885,11.99,0.0845,12.04,0.0865,12.08,0.0825,12.12,0.0895,12.15,0.0835,12.20,0.0875,12.23,0.0855,12.28,0.0805,12.32,0.0870,11.96,0.0840,12.11,0.0890,12.18,0.0820,12.26,
0.0960,11.95,0.0910,12.01,0.0980,12.05,0.0930,12.10,0.0990,12.14,0.0950,12.18,0.0920,12.21,0.0970,12.26,0.0940,12.29,0.0985,12.34,0.0915,12.07,0.0965,12.23,0.0935,11.99,0.0955,12.38,
0.1015,12.01,0.1085,12.07,0.1045,12.12,0.1065,12.16,0.1025,12.20,0.1095,12.23,0.1035,12.28,0.1075,12.31,0.1055,12.36,0.1005,12.40,0.1070,12.04,0.1040,12.19,0.1090,12.26,0.1020,12.34,
0.1130,12.03,0.1105,12.09,0.1140,12.13,0.1115,12.18,0.1145,12.22,0.1125,12.26,0.1110,12.29,0.1135,12.34];
// between the dense sequence and the 0.8 track
const gaiaBelowCore = [
-0.0565,11.81,-0.0525,11.86,-0.0585,11.92,-0.0545,11.97,-0.0510,12.03,-0.0575,12.09,-0.0535,12.14,-0.0555,12.20,
-0.0465,11.85,-0.0425,11.90,-0.0485,11.96,-0.0445,12.01,-0.0410,12.07,-0.0475,12.13,-0.0435,12.18,-0.0455,12.24,
-0.0365,11.89,-0.0325,11.94,-0.0385,12.00,-0.0345,12.05,-0.0310,12.11,-0.0375,12.17,-0.0335,12.22,-0.0355,12.28,
-0.0265,11.93,-0.0225,11.98,-0.0285,12.04,-0.0245,12.09,-0.0210,12.15,-0.0275,12.21,-0.0235,12.26,-0.0255,12.32,
-0.0165,11.97,-0.0125,12.02,-0.0185,12.08,-0.0145,12.13,-0.0110,12.19,-0.0175,12.25,-0.0135,12.30,-0.0155,12.36,
-0.0065,12.01,-0.0025,12.06,-0.0085,12.12,-0.0045,12.17,-0.0010,12.23,-0.0075,12.29,-0.0035,12.34,-0.0055,12.40,
0.0035,12.05,0.0075,12.10,0.0015,12.16,0.0055,12.21,0.0090,12.27,0.0025,12.33,0.0065,12.38,0.0045,12.44,
0.0135,12.09,0.0175,12.14,0.0115,12.20,0.0155,12.25,0.0190,12.31,0.0125,12.37,0.0165,12.42,0.0145,12.48,
0.0235,12.13,0.0275,12.18,0.0215,12.24,0.0255,12.29,0.0290,12.35,0.0225,12.41,0.0265,12.46,0.0245,12.52,
0.0335,12.17,0.0375,12.22,0.0315,12.28,0.0355,12.33,0.0390,12.39,0.0325,12.45,0.0365,12.50,0.0345,12.56,
0.0435,12.21,0.0475,12.26,0.0415,12.32,0.0455,12.37,0.0490,12.43,0.0425,12.49,0.0465,12.54,0.0445,12.60,
0.0535,12.25,0.0575,12.30,0.0515,12.36,0.0555,12.41,0.0590,12.47,0.0525,12.53,0.0565,12.58,0.0545,12.64,
0.0635,12.29,0.0675,12.34,0.0615,12.40,0.0655,12.45,0.0690,12.51,0.0625,12.57,0.0665,12.62,0.0645,12.68,
0.0735,12.33,0.0775,12.38,0.0715,12.44,0.0755,12.49,0.0790,12.55,0.0725,12.61,0.0765,12.66,0.0745,12.72,
0.0835,12.37,0.0875,12.42,0.0815,12.48,0.0855,12.53,0.0890,12.59,0.0825,12.65,0.0865,12.70,0.0845,12.76,
0.0935,12.41,0.0975,12.46,0.0915,12.52,0.0955,12.57,0.0990,12.63,0.0925,12.69,0.0965,12.74,0.0945,12.80,
0.1035,12.45,0.1075,12.50,0.1015,12.56,0.1055,12.61,0.1090,12.67,0.1025,12.73,0.1065,12.78,0.1045,12.84,
0.1125,12.49,0.1145,12.57,0.1110,12.65,0.1135,12.74];
// faint red end, below the 1.0 track
const gaiaFaint = [
-0.048,12.72,-0.044,13.01,-0.041,13.27,-0.046,13.55,-0.043,13.82,-0.049,12.90,
-0.038,12.81,-0.034,13.12,-0.031,13.38,-0.036,13.67,-0.033,13.93,-0.039,12.63,
-0.028,12.69,-0.024,12.96,-0.021,13.31,-0.026,13.51,-0.023,13.78,-0.029,13.06,
-0.018,12.86,-0.014,13.15,-0.011,13.43,-0.016,13.62,-0.013,13.89,-0.019,12.75,
-0.008,12.77,-0.004,13.04,-0.001,13.22,-0.006,13.58,-0.003,13.80,-0.009,12.92,
0.002,12.91,0.006,13.19,0.009,13.34,0.004,13.71,0.007,13.95,0.001,12.66,
0.012,12.74,0.016,12.99,0.019,13.28,0.014,13.47,0.017,13.76,0.011,13.11,
0.022,12.83,0.026,13.08,0.029,13.41,0.024,13.64,0.027,13.87,0.021,12.71,
0.032,12.96,0.036,13.23,0.039,13.36,0.034,13.53,0.037,13.84,0.031,12.79,
0.042,12.88,0.046,13.14,0.049,13.30,0.044,13.69,0.047,13.91,0.041,13.02,
0.052,12.93,0.056,13.26,0.059,13.45,0.054,13.61,0.057,13.79,0.051,12.85,
0.062,12.99,0.066,13.17,0.069,13.39,0.064,13.57,0.067,13.96,0.061,12.89,
0.072,13.03,0.076,13.29,0.079,13.48,0.074,13.73,0.077,13.86,0.071,12.94,
0.082,12.97,0.086,13.21,0.089,13.44,0.084,13.66,0.087,13.90,0.081,13.07,
0.092,13.09,0.096,13.33,0.099,13.52,0.094,13.77,0.097,13.94,0.091,12.98,
0.102,13.04,0.106,13.27,0.109,13.49,0.104,13.70,0.107,13.88,0.101,13.13,
0.112,13.12,0.114,13.38,0.111,13.60,0.113,13.85];

function toPairs(flat) {
  const out = [];
  for (let i = 0; i < flat.length; i += 2) out.push([flat[i], flat[i + 1]]);
  return out;
}
// sparse field and the crowded sequence are drawn as two layers of the same sample
const gaiaField = toPairs([].concat(gaiaUpperLeft, gaiaLowerLeft, gaiaUpperMid, gaiaUpperRight, gaiaLowerMid, gaiaBandLeft));
const gaiaCrowded = toPairs([].concat(gaiaBandRight, gaiaCore, gaiaBelowCore, gaiaFaint));

// gap -> break in the line
function withGaps(track) {
  return track.map(p => (p === null ? ["-", "-"] : p));
}
// label sits in the middle of each gap
function gapMiddle(track) {
  const i = track.indexOf(null);
  const a = track[i - 1], b = track[i + 1];
  return [(a[0] + b[0]) / 2, (a[1] + b[1]) / 2];
}

const serif = "'Liberation Serif', 'DejaVu Serif', serif";
const trackColor = "rgba(0,64,15,0.55)";
const tracks = [track06, track08, track10];
const gaiaColor = "rgba(122,122,122,0.78)";

const chart = echarts.init(document.getElementById("chart"));

const lineSeries = tracks.map((t, i) => ({
  name: "track " + trackMass[i],
  type: "line",
  data: withGaps(t),
  showSymbol: false,
  symbol: "none",
  smooth: 0.35,
  connectNulls: false,
  silent: true,
  z: 3,
  lineStyle: { color: trackColor, width: 7 },
}));

const axisLine = { onZero: false, lineStyle: { color: "#000", width: 1.2 } };

chart.setOption({
  backgroundColor: "#ffffff",
  animation: false,
  grid: { left: 108, top: 23, right: 0, bottom: 80 },
  xAxis: [
    {
      type: "value",
      min: xMin,
      max: xMax,
      interval: xStep,
      name: "BP - RP",
      nameLocation: "middle",
      nameGap: 28,
      nameMoveOverlap: false,
      nameTextStyle: { fontFamily: serif, fontSize: 38, color: "#000" },
      axisLine: axisLine,
      axisTick: { length: 7, lineStyle: { color: "#000", width: 1.2 } },
      axisLabel: {
        fontFamily: serif,
        fontSize: 32,
        color: "#000",
        margin: 3,
        showMaxLabel: false,
        formatter: v => v.toFixed(1),
      },
      splitLine: { show: false },
    },
    {
      // top spine only
      type: "value",
      position: "top",
      min: xMin,
      max: xMax,
      interval: xStep,
      axisLine: axisLine,
      axisTick: { show: false },
      axisLabel: { show: false },
      splitLine: { show: false },
    },
  ],
  yAxis: {
    type: "value",
    min: yMin,
    max: yMax,
    interval: yStep,
    inverse: true,
    name: "{m|M}{g|G}",
    nameLocation: "middle",
    nameGap: 46,
    nameMoveOverlap: false,
    nameTextStyle: {
      color: "#000",
      padding: [0, 46, 0, 0],
      rich: {
        m: { fontFamily: serif, fontSize: 36, lineHeight: 44, color: "#000" },
        g: { fontFamily: serif, fontSize: 25, lineHeight: 25, verticalAlign: "bottom", color: "#000" },
      },
    },
    axisLine: axisLine,
    axisTick: { length: 7, lineStyle: { color: "#000", width: 1.2 } },
    axisLabel: { fontFamily: serif, fontSize: 32, color: "#000", margin: 12 },
    splitLine: { show: false },
  },
  legend: [
    {
      data: [{ name: seriesNames[0], icon: "circle" }],
      left: 726, top: 46, padding: 0, itemWidth: 4, itemHeight: 4,
      selectedMode: false, z: 11,
      textStyle: { fontFamily: serif, fontSize: 33, color: "#000", lineHeight: 34, padding: [0, 0, 0, 46] },
    },
    {
      data: [{ name: seriesNames[1], icon: "circle" }],
      left: 723, top: 89, padding: 0, itemWidth: 10, itemHeight: 10,
      selectedMode: false, z: 11,
      textStyle: { fontFamily: serif, fontSize: 33, color: "#000", lineHeight: 34, padding: [0, 0, 0, 44] },
    },
    {
      data: [{ name: seriesNames[2], icon: "circle" }],
      left: 724, top: 131, padding: 0, itemWidth: 8, itemHeight: 8,
      selectedMode: false, z: 11,
      textStyle: { fontFamily: serif, fontSize: 33, color: "#000", lineHeight: 34, padding: [0, 0, 0, 45] },
    },
  ],
  graphic: [
    {
      type: "rect",
      z: 10,
      silent: true,
      shape: { x: 686, y: 39, width: 421, height: 135, r: 5 },
      style: { fill: "rgba(255,255,255,0.8)", stroke: "#cccccc", lineWidth: 1.2 },
    },
  ],
  series: [
    {
      name: seriesNames[0],
      type: "scatter",
      data: gaiaField,
      symbolSize: 4.5,
      z: 2,
      silent: true,
      large: false,
      itemStyle: { color: gaiaColor },
    },
    {
      name: seriesNames[0],
      type: "scatter",
      data: gaiaCrowded,
      symbolSize: 6,
      z: 2,
      silent: true,
      large: false,
      itemStyle: { color: gaiaColor },
    },
    ...lineSeries,
    {
      name: "mass labels",
      type: "scatter",
      data: tracks.map(gapMiddle),
      symbolSize: 1,
      z: 4,
      silent: true,
      itemStyle: { color: "rgba(0,0,0,0)" },
      label: {
        show: true,
        position: "inside",
        rotate: -16,
        formatter: p => trackMass[p.dataIndex],
        fontFamily: serif,
        fontStyle: "italic",
        fontSize: 26,
        color: "rgba(0,64,15,0.62)",
      },
    },
    {
      name: seriesNames[1],
      type: "scatter",
      data: snapData,
      symbolSize: 10,
      z: 5,
      itemStyle: { color: "#4169e1" },
    },
    {
      name: seriesNames[2],
      type: "scatter",
      data: pollutedData,
      symbolSize: 9,
      z: 6,
      itemStyle: { color: "#8b0000" },
    },
  ],
});
</script>
</body>
</html>
